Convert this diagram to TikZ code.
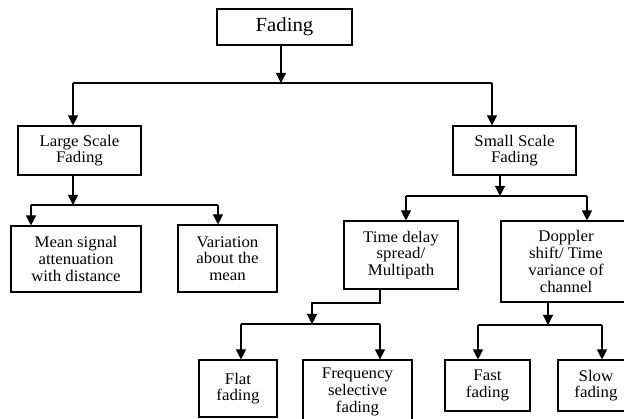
\documentclass[tikz,border=0pt]{standalone}
\usepackage{fontspec}
\setmainfont{Liberation Serif}[FakeStretch=1.04]
\usetikzlibrary{arrows.meta,positioning,calc}

\begin{document}
\begin{tikzpicture}[x=1pt,y=-1pt,line width=1.1pt,>={Triangle[length=10pt,width=10pt]},
	box/.style={draw,align=center,inner sep=0pt,font=\fontsize{16.2}{16.7}\selectfont}]
	\useasboundingbox (0,0) rectangle (624,419);
	\clip (0,0) rectangle (624,419);
	% boxes
	\node[box,minimum width=135pt,minimum height=36pt,font=\fontsize{20}{22}\selectfont] (fad) at (284.5,27) {Fading};
	\node[box,minimum width=123pt,minimum height=49pt] (lsf) at (79.5,150.5) {Large Scale\\Fading};
	\node[box,minimum width=123pt,minimum height=49pt] (ssf) at (514.5,150.5) {Small Scale\\Fading};
	\node[box,minimum width=130pt,minimum height=66pt] (msa) at (76,259) {Mean signal\\attenuation\\with distance};
	\node[box,minimum width=99pt,minimum height=67pt] (var) at (227.5,258.5) {Variation\\about the\\mean};
	\node[box,minimum width=114pt,minimum height=68pt] (tds) at (401,255) {Time delay\\spread/\\Multipath};
	\node[box,minimum width=130pt,minimum height=81pt] (dop) at (566,261.5) {Doppler\\shift/ Time\\variance of\\channel};
	\node[box,minimum width=78pt,minimum height=57pt] (flat) at (238,388.5) {Flat\\fading};
	\node[box,minimum width=109pt,minimum height=64pt] (freq) at (357.5,392) {Frequency\\selective\\fading};
	\node[box,minimum width=85pt,minimum height=51pt] (fast) at (487.5,385.5) {Fast\\fading};
	\node[box,minimum width=76pt,minimum height=51pt] (slow) at (596,385.5) {Slow\\fading};
	% junctions
	\coordinate (j0) at (281,83);
	\coordinate (j0l) at (73,83);
	\coordinate (j0r) at (492,83);
	\coordinate (j1) at (73,205);
	\coordinate (j1l) at (31,205);
	\coordinate (j1r) at (218,205);
	\coordinate (j2) at (500,196);
	\coordinate (j2l) at (406,196);
	\coordinate (j2r) at (587,196);
	\coordinate (t1) at (380,303);
	\coordinate (t2) at (312,303);
	\coordinate (j3) at (312,324);
	\coordinate (j3l) at (241,324);
	\coordinate (j3r) at (380,324);
	\coordinate (j4) at (548,325);
	\coordinate (j4l) at (478,325);
	\coordinate (j4r) at (602,325);
	% connectors
	\draw[->] (fad.south -| j0) -- (j0);
	\draw (j0l) -- (j0r);
	\draw[->] (j0l) -- (lsf.north -| j0l);
	\draw[->] (j0r) -- (ssf.north -| j0r);
	\draw[->] (lsf.south -| j1) -- (j1);
	\draw (j1l) -- (j1r);
	\draw[->] (j1l) -- (msa.north -| j1l);
	\draw[->] (j1r) -- (var.north -| j1r);
	\draw[->] (ssf.south -| j2) -- (j2);
	\draw (j2l) -- (j2r);
	\draw[->] (j2l) -- (tds.north -| j2l);
	\draw[->] (j2r) -- (dop.north -| j2r);
	\draw[->] (tds.south -| t1) -- (t1) -- (t2) -- (j3);
	\draw (j3l) -- (j3r);
	\draw[->] (j3l) -- (flat.north -| j3l);
	\draw[->] (j3r) -- (freq.north -| j3r);
	\draw[->] (dop.south -| j4) -- (j4);
	\draw (j4l) -- (j4r);
	\draw[->] (j4l) -- (fast.north -| j4l);
	\draw[->] (j4r) -- (slow.north -| j4r);
\end{tikzpicture}
\end{document}
